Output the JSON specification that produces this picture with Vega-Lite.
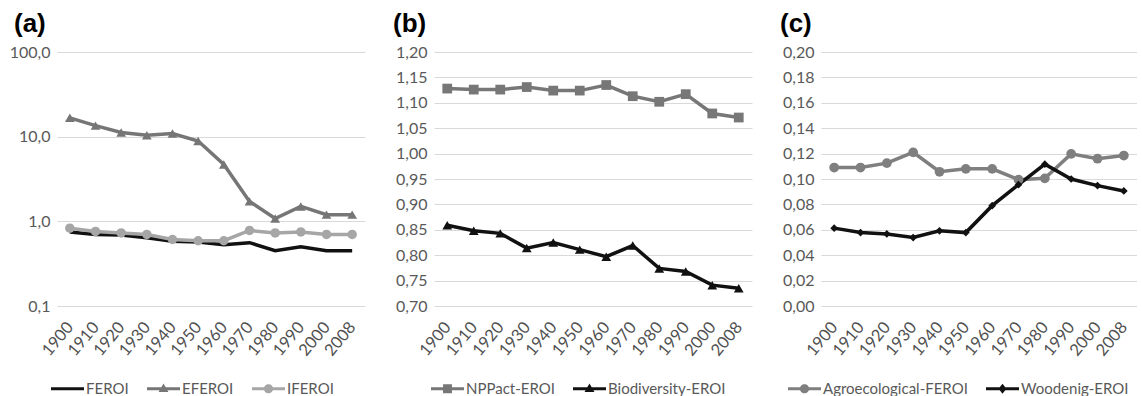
{
 "$schema": "https://vega.github.io/schema/vega-lite/v6.json",
 "autosize": {"type": "pad"},
 "padding": {"left": 9, "top": 10, "right": 0, "bottom": 0},
 "background": "white",
 "config": {
  "view": {"stroke": null},
  "font": "Lato",
  "axis": {"labelFont": "Lato", "labelFontSize": 16, "labelColor": "#595959", "domain": false, "ticks": false, "tickSize": 0, "gridColor": "#d9d9d9", "gridWidth": 1.2, "title": null, "labelOverlap": false},
  "legend": {"orient": "none", "direction": "horizontal", "labelFont": "Lato", "labelFontSize": 15, "labelColor": "#595959", "symbolSize": 1089, "symbolStrokeWidth": 0, "columnPadding": 18, "labelOffset": 2, "title": null},
  "title": {"font": "Liberation Sans", "fontSize": 26, "fontWeight": "bold", "anchor": "start", "frame": "group", "color": "#000000", "baseline": "alphabetic"}
 },
 "datasets": {
  "a": [
   {"year": "1900", "series": "FEROI", "value": 0.75}, {"year": "1910", "series": "FEROI", "value": 0.70}, {"year": "1920", "series": "FEROI", "value": 0.69}, {"year": "1930", "series": "FEROI", "value": 0.64}, {"year": "1940", "series": "FEROI", "value": 0.58}, {"year": "1950", "series": "FEROI", "value": 0.57}, {"year": "1960", "series": "FEROI", "value": 0.53}, {"year": "1970", "series": "FEROI", "value": 0.56}, {"year": "1980", "series": "FEROI", "value": 0.45}, {"year": "1990", "series": "FEROI", "value": 0.50}, {"year": "2000", "series": "FEROI", "value": 0.45}, {"year": "2008", "series": "FEROI", "value": 0.45},
   {"year": "1900", "series": "EFEROI", "value": 16.7}, {"year": "1910", "series": "EFEROI", "value": 13.5}, {"year": "1920", "series": "EFEROI", "value": 11.2}, {"year": "1930", "series": "EFEROI", "value": 10.4}, {"year": "1940", "series": "EFEROI", "value": 10.9}, {"year": "1950", "series": "EFEROI", "value": 8.9}, {"year": "1960", "series": "EFEROI", "value": 4.7}, {"year": "1970", "series": "EFEROI", "value": 1.72}, {"year": "1980", "series": "EFEROI", "value": 1.08}, {"year": "1990", "series": "EFEROI", "value": 1.5}, {"year": "2000", "series": "EFEROI", "value": 1.2}, {"year": "2008", "series": "EFEROI", "value": 1.2},
   {"year": "1900", "series": "IFEROI", "value": 0.83}, {"year": "1910", "series": "IFEROI", "value": 0.76}, {"year": "1920", "series": "IFEROI", "value": 0.73}, {"year": "1930", "series": "IFEROI", "value": 0.70}, {"year": "1940", "series": "IFEROI", "value": 0.61}, {"year": "1950", "series": "IFEROI", "value": 0.59}, {"year": "1960", "series": "IFEROI", "value": 0.59}, {"year": "1970", "series": "IFEROI", "value": 0.78}, {"year": "1980", "series": "IFEROI", "value": 0.73}, {"year": "1990", "series": "IFEROI", "value": 0.75}, {"year": "2000", "series": "IFEROI", "value": 0.70}, {"year": "2008", "series": "IFEROI", "value": 0.70}
  ],
  "b": [
   {"year": "1900", "series": "NPPact-EROI", "value": 1.128}, {"year": "1910", "series": "NPPact-EROI", "value": 1.126}, {"year": "1920", "series": "NPPact-EROI", "value": 1.126}, {"year": "1930", "series": "NPPact-EROI", "value": 1.131}, {"year": "1940", "series": "NPPact-EROI", "value": 1.124}, {"year": "1950", "series": "NPPact-EROI", "value": 1.124}, {"year": "1960", "series": "NPPact-EROI", "value": 1.135}, {"year": "1970", "series": "NPPact-EROI", "value": 1.113}, {"year": "1980", "series": "NPPact-EROI", "value": 1.102}, {"year": "1990", "series": "NPPact-EROI", "value": 1.117}, {"year": "2000", "series": "NPPact-EROI", "value": 1.079}, {"year": "2008", "series": "NPPact-EROI", "value": 1.071},
   {"year": "1900", "series": "Biodiversity-EROI", "value": 0.859}, {"year": "1910", "series": "Biodiversity-EROI", "value": 0.848}, {"year": "1920", "series": "Biodiversity-EROI", "value": 0.843}, {"year": "1930", "series": "Biodiversity-EROI", "value": 0.814}, {"year": "1940", "series": "Biodiversity-EROI", "value": 0.825}, {"year": "1950", "series": "Biodiversity-EROI", "value": 0.811}, {"year": "1960", "series": "Biodiversity-EROI", "value": 0.797}, {"year": "1970", "series": "Biodiversity-EROI", "value": 0.819}, {"year": "1980", "series": "Biodiversity-EROI", "value": 0.774}, {"year": "1990", "series": "Biodiversity-EROI", "value": 0.768}, {"year": "2000", "series": "Biodiversity-EROI", "value": 0.741}, {"year": "2008", "series": "Biodiversity-EROI", "value": 0.735}
  ],
  "c": [
   {"year": "1900", "series": "Agroecological-FEROI", "value": 0.109}, {"year": "1910", "series": "Agroecological-FEROI", "value": 0.109}, {"year": "1920", "series": "Agroecological-FEROI", "value": 0.1125}, {"year": "1930", "series": "Agroecological-FEROI", "value": 0.121}, {"year": "1940", "series": "Agroecological-FEROI", "value": 0.1057}, {"year": "1950", "series": "Agroecological-FEROI", "value": 0.108}, {"year": "1960", "series": "Agroecological-FEROI", "value": 0.108}, {"year": "1970", "series": "Agroecological-FEROI", "value": 0.0995}, {"year": "1980", "series": "Agroecological-FEROI", "value": 0.1005}, {"year": "1990", "series": "Agroecological-FEROI", "value": 0.1198}, {"year": "2000", "series": "Agroecological-FEROI", "value": 0.116}, {"year": "2008", "series": "Agroecological-FEROI", "value": 0.1185},
   {"year": "1900", "series": "Woodenig-EROI", "value": 0.0613}, {"year": "1910", "series": "Woodenig-EROI", "value": 0.0578}, {"year": "1920", "series": "Woodenig-EROI", "value": 0.0567}, {"year": "1930", "series": "Woodenig-EROI", "value": 0.0539}, {"year": "1940", "series": "Woodenig-EROI", "value": 0.0592}, {"year": "1950", "series": "Woodenig-EROI", "value": 0.0578}, {"year": "1960", "series": "Woodenig-EROI", "value": 0.079}, {"year": "1970", "series": "Woodenig-EROI", "value": 0.0955}, {"year": "1980", "series": "Woodenig-EROI", "value": 0.1117}, {"year": "1990", "series": "Woodenig-EROI", "value": 0.100}, {"year": "2000", "series": "Woodenig-EROI", "value": 0.0948}, {"year": "2008", "series": "Woodenig-EROI", "value": 0.0906}
  ]
 },
 "bounds": "flush",
 "spacing": 69,
 "resolve": {"scale": {"color": "independent"}, "legend": {"color": "independent"}},
 "hconcat": [
  {
   "width": 308, "height": 254,
   "title": {"text": "(a)", "dx": -43, "offset": 7.5},
   "data": {"name": "a"},
   "encoding": {
    "x": {"field": "year", "type": "ordinal", "scale": {"type": "point", "padding": 0.5}, "axis": {"labelAngle": -50, "labelFontSize": 16.5, "labelColor": "#505050", "labelPadding": 18, "grid": false}},
    "y": {"field": "value", "type": "quantitative", "scale": {"type": "log", "domain": [0.1, 100], "nice": false}, "axis": {"values": [0.1, 1, 10, 100], "labelExpr": "replace(format(datum.value, '.1f'), '.', ',')", "grid": true, "labelPadding": 7}},
    "color": {"field": "series", "type": "nominal", "scale": {"domain": ["FEROI", "EFEROI", "IFEROI"], "range": ["#111111", "#767676", "#a6a6a6"]},
     "legend": {"legendX": -6, "legendY": 320, "encoding": {"symbols": {
      "shape": {"value": {"expr": "datum.value === 'EFEROI' ? 'M-1,-0.09H1V0.09H-1Z M0,-0.32L0.3,0.2H-0.3Z' : datum.value === 'IFEROI' ? 'M-1,-0.09H1V0.09H-1Z M0.28,0A0.28,0.28 0 1,1 -0.28,0A0.28,0.28 0 1,1 0.28,0Z' : 'M-1,-0.09H1V0.09H-1Z'"}},
      "fill": {"value": {"expr": "datum.value === 'FEROI' ? '#111111' : datum.value === 'EFEROI' ? '#767676' : '#a6a6a6'"}},
      "size": {"value": 1089}, "strokeWidth": {"value": 0}, "opacity": {"value": 1}, "fillOpacity": {"value": 1}}}}}
   },
   "layer": [
    {"mark": {"type": "line", "strokeWidth": 3.5}},
    {"transform": [{"filter": "datum.series === 'EFEROI'"}],
     "mark": {"type": "point", "filled": true, "opacity": 1, "size": 95, "shape": "triangle-up"}},
    {"transform": [{"filter": "datum.series === 'IFEROI'"}],
     "mark": {"type": "point", "filled": true, "opacity": 1, "size": 90, "shape": "circle"}}
   ]
  },
  {
   "width": 318, "height": 254,
   "title": {"text": "(b)", "dx": -41, "offset": 7.5},
   "data": {"name": "b"},
   "encoding": {
    "x": {"field": "year", "type": "ordinal", "scale": {"type": "point", "padding": 0.5}, "axis": {"labelAngle": -50, "labelFontSize": 16.5, "labelColor": "#505050", "labelPadding": 18, "grid": false}},
    "y": {"field": "value", "type": "quantitative", "scale": {"domain": [0.7, 1.2], "nice": false, "zero": false}, "axis": {"values": [0.7, 0.75, 0.8, 0.85, 0.9, 0.95, 1.0, 1.05, 1.1, 1.15, 1.2], "labelExpr": "replace(format(datum.value, '.2f'), '.', ',')", "grid": true, "labelPadding": 7}},
    "color": {"field": "series", "type": "nominal", "scale": {"domain": ["NPPact-EROI", "Biodiversity-EROI"], "range": ["#777777", "#111111"]},
     "legend": {"legendX": -3, "legendY": 320, "encoding": {"symbols": {
      "shape": {"value": {"expr": "datum.value === 'NPPact-EROI' ? 'M-1,-0.09H1V0.09H-1Z M-0.27,-0.27H0.27V0.27H-0.27Z' : 'M-1,-0.09H1V0.09H-1Z M0,-0.32L0.3,0.2H-0.3Z'"}},
      "fill": {"value": {"expr": "datum.value === 'NPPact-EROI' ? '#777777' : '#111111'"}},
      "size": {"value": 1089}, "strokeWidth": {"value": 0}, "opacity": {"value": 1}, "fillOpacity": {"value": 1}}}}}
   },
   "layer": [
    {"mark": {"type": "line", "strokeWidth": 3.5}},
    {"transform": [{"filter": "datum.series === 'NPPact-EROI'"}],
     "mark": {"type": "point", "filled": true, "opacity": 1, "size": 95, "shape": "square"}},
    {"transform": [{"filter": "datum.series === 'Biodiversity-EROI'"}],
     "mark": {"type": "point", "filled": true, "opacity": 1, "size": 95, "shape": "triangle-up"}}
   ]
  },
  {
   "width": 316, "height": 254,
   "title": {"text": "(c)", "dx": -41, "offset": 7.5},
   "data": {"name": "c"},
   "encoding": {
    "x": {"field": "year", "type": "ordinal", "scale": {"type": "point", "padding": 0.5}, "axis": {"labelAngle": -50, "labelFontSize": 16.5, "labelColor": "#505050", "labelPadding": 18, "grid": false}},
    "y": {"field": "value", "type": "quantitative", "scale": {"domain": [0, 0.2], "nice": false}, "axis": {"values": [0, 0.02, 0.04, 0.06, 0.08, 0.1, 0.12, 0.14, 0.16, 0.18, 0.2], "labelExpr": "replace(format(datum.value, '.2f'), '.', ',')", "grid": true, "labelPadding": 7}},
    "color": {"field": "series", "type": "nominal", "scale": {"domain": ["Agroecological-FEROI", "Woodenig-EROI"], "range": ["#7f7f7f", "#111111"]},
     "legend": {"legendX": -33, "legendY": 320, "encoding": {"symbols": {
      "shape": {"value": {"expr": "datum.value === 'Agroecological-FEROI' ? 'M-1,-0.09H1V0.09H-1Z M0.28,0A0.28,0.28 0 1,1 -0.28,0A0.28,0.28 0 1,1 0.28,0Z' : 'M-1,-0.09H1V0.09H-1Z M0,-0.3L0.24,0L0,0.3L-0.24,0Z'"}},
      "fill": {"value": {"expr": "datum.value === 'Agroecological-FEROI' ? '#7f7f7f' : '#111111'"}},
      "size": {"value": 1089}, "strokeWidth": {"value": 0}, "opacity": {"value": 1}, "fillOpacity": {"value": 1}}}}}
   },
   "layer": [
    {"mark": {"type": "line", "strokeWidth": 3.5}},
    {"transform": [{"filter": "datum.series === 'Agroecological-FEROI'"}],
     "mark": {"type": "point", "filled": true, "opacity": 1, "size": 95, "shape": "circle"}},
    {"transform": [{"filter": "datum.series === 'Woodenig-EROI'"}],
     "mark": {"type": "point", "filled": true, "opacity": 1, "size": 60, "shape": "diamond"}}
   ]
  }
 ]
}
